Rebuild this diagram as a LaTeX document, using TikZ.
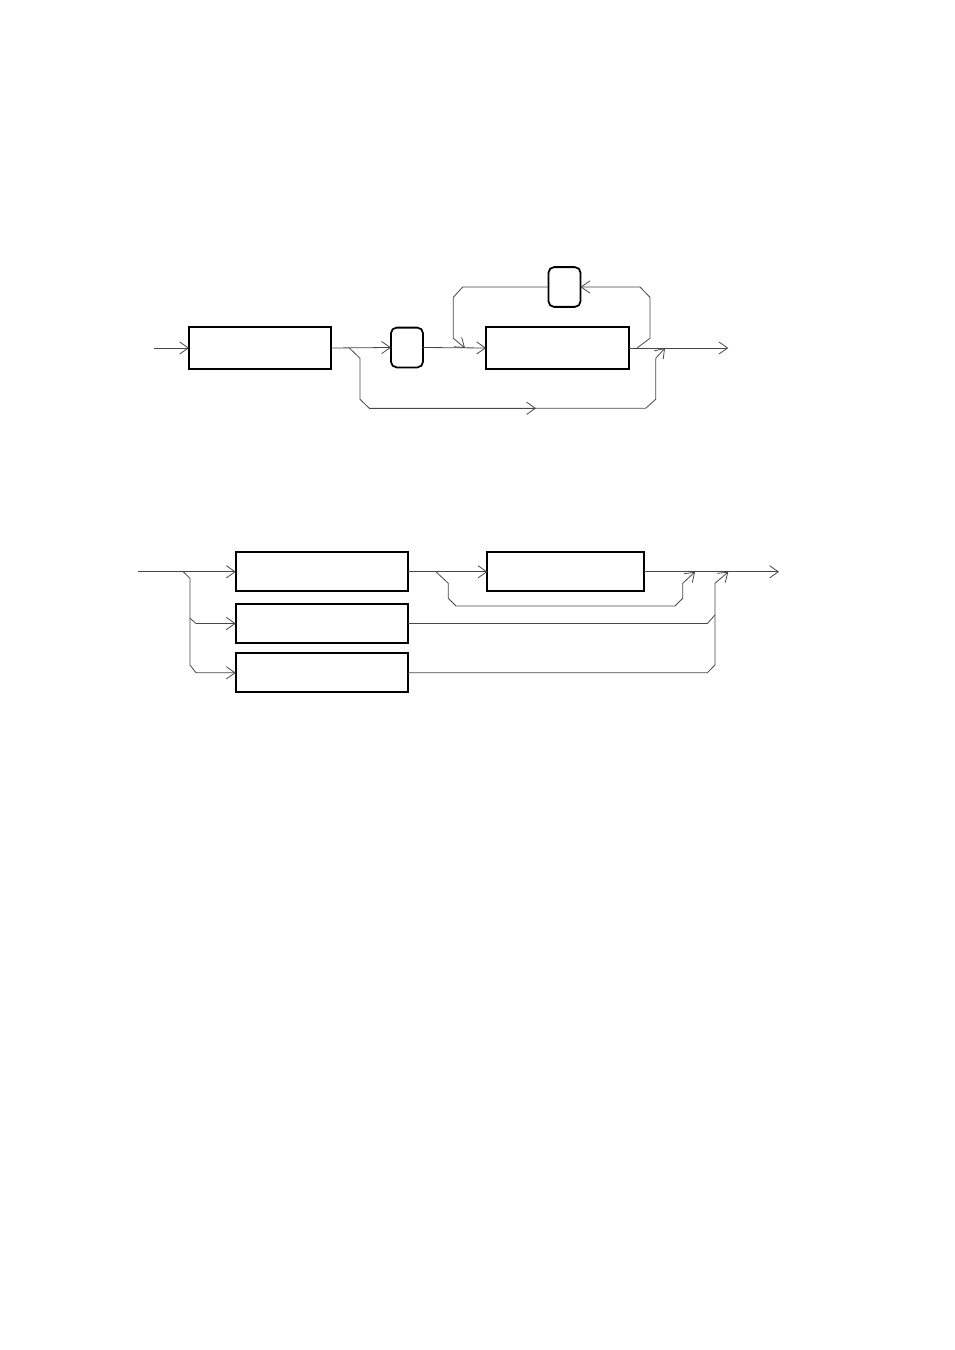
\documentclass[tikz,border=0pt]{standalone}
\usetikzlibrary{arrows.meta}
\begin{document}
\begin{tikzpicture}[x=0.6237pt,y=-0.6237pt,
  conn/.style={draw=black!72,line width=0.5pt,line join=miter},
  arr/.style={conn,-{Straight Barb[length=5.4pt,width=7.6pt,line width=0.5pt]}},
  termbox/.style={draw=black,line width=1.3pt,inner sep=0pt,outer sep=0pt,rectangle},
  roundbox/.style={draw=black,line width=1.1pt,inner sep=0pt,outer sep=0pt,rectangle,rounded corners=3.5pt,minimum width=20pt,minimum height=24.8pt}]
\useasboundingbox (0,0) rectangle (954,1350);
% ---------- top diagram ----------
\node[termbox,minimum width=88.6pt,minimum height=26.2pt] (box1) at (260,348) {};
\node[roundbox] (rb1) at (407,347.5) {};
\node[roundbox] (rb2) at (564.5,287) {};
\node[termbox,line width=1pt,minimum width=89.2pt,minimum height=26.2pt] (box3) at (557.5,348) {};
\coordinate (s1) at (154,348);
\coordinate (e1) at (728.3,348);
\coordinate (j1) at (349.3,348);
\coordinate (j2) at (665,348);
\coordinate (j3) at (637,348);
\coordinate (j4) at (465,348);
\draw[arr] (s1) -- (box1.west);
\draw[arr] (box1.east) -- (rb1.west);
\draw[arr] (rb1.east) -- (box3.west);
\draw[arr] (box3.east) -- (e1);
% loop
\draw[arr] (j3) -- (650,338.3) -- (650,297.3) -- (640,287) -- (rb2.east);
\draw[arr] (rb2.west) -- (462.7,287) -- (453.3,297.3) -- (453.3,338.3) -- (j4);
% bypass
\draw[conn] (j1) -- (360,358.3) -- (360,399.3) -- (369.3,408.3) -- (645.7,408.3) -- (655.7,399.3) -- (655.7,358.3);
\draw[arr] (655.7,358.3) -- (j2);
\draw[arr] (369.3,408.3) -- (536,408.3);
% ---------- bottom diagram ----------
\node[termbox,minimum width=107.5pt,minimum height=24.3pt] (A) at (321.9,571.8) {};
\node[termbox,minimum width=107.5pt,minimum height=24.3pt] (B) at (321.9,623.5) {};
\node[termbox,minimum width=107.5pt,minimum height=24.3pt] (C) at (321.9,672.8) {};
\node[termbox,minimum width=97.7pt,minimum height=24.3pt] (D) at (565.7,571.8) {};
\coordinate (s2) at (138.3,571.8);
\coordinate (e2) at (779,571.8);
\coordinate (k1) at (183.3,571.8);
\coordinate (k2) at (436,571.8);
\coordinate (k3) at (695,571.8);
\coordinate (k4) at (728.3,571.8);
\draw[arr] (s2) -- (A.west);
\draw[arr] (A.east) -- (D.west);
\draw[arr] (D.east) -- (e2);
% branches to B and C
\draw[arr] (k1) -- (190,578.3) -- (190,618.3) -- (196,623.5) -- (B.west);
\draw[arr] (190,618.3) -- (190,665) -- (196,672.8) -- (C.west);
% bypass of D
\draw[arr] (k2) -- (448.3,583.3) -- (448.3,598.3) -- (456,606) -- (675,606) -- (682.7,598.3) -- (682.7,583.3) -- (k3);
% outputs of B and C
\draw[conn] (B.east) -- (707.3,623.5) -- (715,615);
\draw[arr] (C.east) -- (707.3,672.8) -- (715,665) -- (715,583.3) -- (k4);
\end{tikzpicture}
\end{document}
